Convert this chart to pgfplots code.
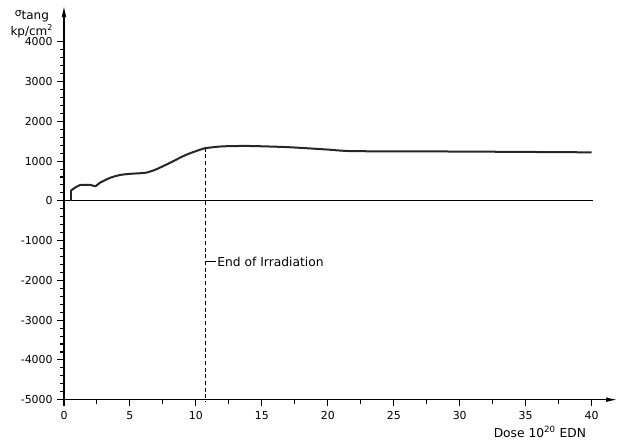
\documentclass[border=0pt]{standalone}
\usepackage{fontspec}
\setmainfont{DejaVu Sans}
\usepackage{pgfplots}
\pgfplotsset{compat=1.18}
\usetikzlibrary{arrows.meta}
\begin{document}
\begin{tikzpicture}
\begin{axis}[
    scale only axis,
    width=415.5pt,
    height=296pt,
    xmin=0, xmax=42,
    ymin=-5000, ymax=4925,
    axis lines=left,
    axis line style={line width=1.1pt, -{Latex[length=9pt,width=3.5pt]}},
    xtick={0,5,...,40},
    minor x tick num=1,
    ytick={-5000,-4000,...,4000},
    yticklabels={-5000,-4000,-3000,-2000,-1000,0,1000,2000,3000,4000},
    minor y tick num=4,
    tick align=outside,
    major tick length=5pt,
    minor tick length=3pt,
    tick style={line width=0.8pt, black},
    /pgf/number format/assume math mode=true,
    /pgf/number format/1000 sep={},
    tick label style={font=\fontsize{8.2}{10}\selectfont},
    clip=false,
]

% zero line
\addplot[black, line width=0.8pt] coordinates {(0,0) (40.1,0)};

% stress curve
\addplot[black!85, line width=1.5pt] coordinates {(0.5,0) (0.5,250)};
\addplot[black!85, line width=1.5pt, smooth, tension=0.4] coordinates {
    (0.5,250) (0.83,330) (1.2,395) (1.6,405) (2.0,400) (2.4,370)
    (2.7,450) (3.5,580) (4.25,650) (5.0,680) (6.15,705) (6.9,780)
    (8.0,950) (9.2,1150) (10.3,1285) (10.7,1325) (12,1370) (14,1380)
    (17,1350) (20,1290) (22,1250) (30,1240) (40,1220)
};

% end of irradiation
\addplot[black, line width=0.8pt, dash pattern=on 3pt off 2pt] coordinates {(10.7,1335) (10.7,-5050)};
\draw[black, line width=0.6pt] (axis cs:10.75,-1530) -- (axis cs:11.5,-1530)
    node[right, inner sep=1pt, font=\fontsize{9.2}{11}\selectfont] {End of Irradiation};

% axis labels
\node[align=center, font=\fontsize{9}{11}\selectfont, inner sep=0pt] at (rel axis cs:-0.058,0.95)
    {{\footnotesize σ}\raisebox{-2pt}{tang}\\[1pt]kp/cm\textsuperscript{2}};
\node[font=\fontsize{9.2}{11}\selectfont, inner sep=0pt] at (rel axis cs:0.859,-0.081)
    {Dose 10\textsuperscript{20} EDN};

% picture extent
\path (rel axis cs:-0.1155,-0.1063) rectangle (rel axis cs:1.0054,1.0127);
\end{axis}
\end{tikzpicture}
\end{document}
